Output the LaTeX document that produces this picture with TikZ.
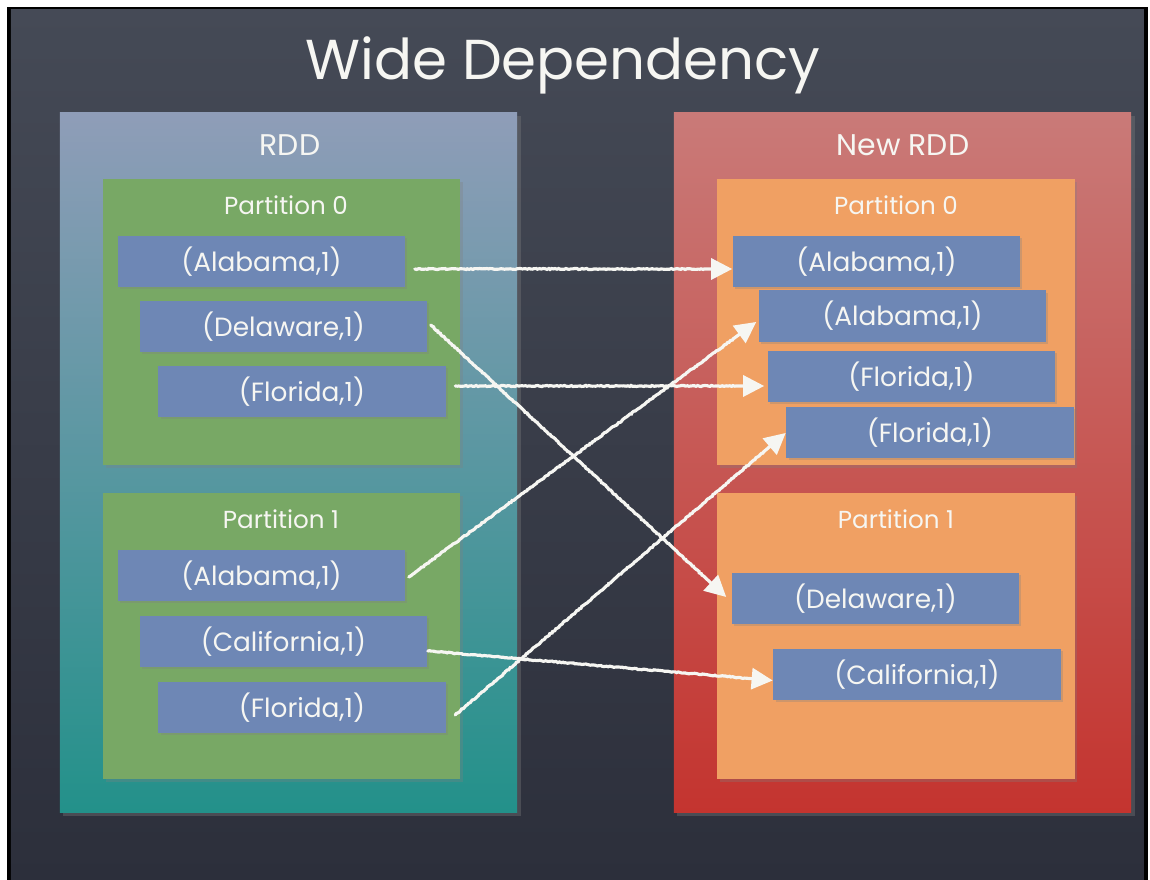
\documentclass[tikz,border=0pt]{standalone}
\usepackage{fontspec}
\setmainfont{Poppins}
\usetikzlibrary{arrows.meta,calc,shadows,decorations.pathmorphing}

\definecolor{boardtop}{HTML}{454A56}
\definecolor{boardbot}{HTML}{2C2F3B}
\definecolor{chalkwhite}{HTML}{F6F6F2}
\definecolor{rddtop}{HTML}{8F9DB8}
\definecolor{rddbot}{HTML}{23918A}
\definecolor{newtop}{HTML}{C97A78}
\definecolor{newbot}{HTML}{C4342F}
\definecolor{partgreen}{HTML}{78A865}
\definecolor{partorange}{HTML}{F0A063}
\definecolor{itemblue}{HTML}{6E87B5}

\tikzset{
  rddbox/.style={inner sep=0pt, minimum width=4.57cm, minimum height=6.99cm,
    drop shadow={opacity=0.35, shadow xshift=1pt, shadow yshift=-1pt}},
  partbox/.style={inner sep=0pt, minimum width=3.57cm, minimum height=2.86cm,
    drop shadow={opacity=0.3, shadow xshift=0.8pt, shadow yshift=-0.8pt}},
  item/.style={fill=itemblue, inner sep=0pt, minimum width=2.87cm, minimum height=0.51cm,
    text=chalkwhite, font=\fontsize{7.5}{9}\selectfont,
    drop shadow={opacity=0.3, shadow xshift=0.6pt, shadow yshift=-0.6pt}},
  caption/.style={text=chalkwhite, inner sep=0pt},
  chalk/.style={draw=chalkwhite, line width=0.9pt, line cap=round,
    decoration={random steps, segment length=0.5pt, amplitude=0.15pt,
      post=lineto, post length=8pt}, decorate,
    -{Triangle[length=6pt,width=6pt]}}
}

\begin{document}
\begin{tikzpicture}[x=0.01cm,y=-0.01cm]
  \useasboundingbox (0,0) rectangle (1150,880);

  % slate board with its black frame
  \fill[white] (0,0) rectangle (1150,880);
  \fill[black] (7,7) rectangle (1148,880);
  \shade[top color=boardtop,bottom color=boardbot] (11,10) rectangle (1144,880);

  \node[caption, anchor=base, font=\fontsize{16}{19}\selectfont] (title) at (563,80) {Wide Dependency};

  % source rdd
  \node[rddbox, top color=rddtop, bottom color=rddbot] (rdd) at (288.5,462.5) {};
  \node[caption, font=\fontsize{8.5}{10}\selectfont] (rddlabel) at (290,145) {RDD};

  \node[partbox, fill=partgreen] (lp0) at (281.5,322) {};
  \node[caption, font=\fontsize{7}{9}\selectfont] (lp0label) at (286,205) {Partition 0};
  \node[item] (l0a) at (261.5,261.5) {(Alabama,1)};
  \node[item] (l0b) at (283.5,326.5) {(Delaware,1)};
  \node[item] (l0c) at (302,391.5) {(Florida,1)};

  \node[partbox, fill=partgreen] (lp1) at (281.5,636) {};
  \node[caption, font=\fontsize{7}{9}\selectfont] (lp1label) at (281,519) {Partition 1};
  \node[item] (l1a) at (261.5,575.5) {(Alabama,1)};
  \node[item] (l1b) at (283.5,641.5) {(California,1)};
  \node[item] (l1c) at (302,707.5) {(Florida,1)};

  % shuffled rdd
  \node[rddbox, top color=newtop, bottom color=newbot] (newrdd) at (902.5,462.5) {};
  \node[caption, font=\fontsize{8.5}{10}\selectfont] (newlabel) at (903,145) {New RDD};

  \node[partbox, fill=partorange] (rp0) at (896,322) {};
  \node[caption, font=\fontsize{7}{9}\selectfont] (rp0label) at (896,205) {Partition 0};
  \node[item] (r0a) at (876.5,261.5) {(Alabama,1)};
  \node[item] (r0b) at (902.5,316) {(Alabama,1)};
  \node[item] (r0c) at (911.5,376.5) {(Florida,1)};
  \node[item] (r0d) at (930,432.5) {(Florida,1)};

  \node[partbox, fill=partorange] (rp1) at (896,636) {};
  \node[caption, font=\fontsize{7}{9}\selectfont] (rp1label) at (896,519) {Partition 1};
  \node[item] (r1a) at (875.5,598.5) {(Delaware,1)};
  \node[item] (r1b) at (917,674.5) {(California,1)};

  % shuffle arrows
  \draw[chalk] ($(l0a.east)+(9,7.5)$) -- ($(r0a.west)+(0,7.5)$);
  \draw[chalk] ($(l0b.east)+(3,-1.5)$) -- ($(r1a.west)+(-5,-1.5)$);
  \draw[chalk] ($(l0c.east)+(9,-5.5)$) -- ($(r0c.west)+(-3,9.5)$);
  \draw[chalk] ($(l1a.east)+(3,1.5)$) -- ($(r0b.west)+(-2,6)$);
  \draw[chalk] ($(l1b.east)+(0,9.5)$) -- ($(r1b.west)+(0,6)$);
  \draw[chalk] ($(l1c.east)+(9,7.5)$) -- ($(r0d.west)+(0,0.5)$);
\end{tikzpicture}
\end{document}
